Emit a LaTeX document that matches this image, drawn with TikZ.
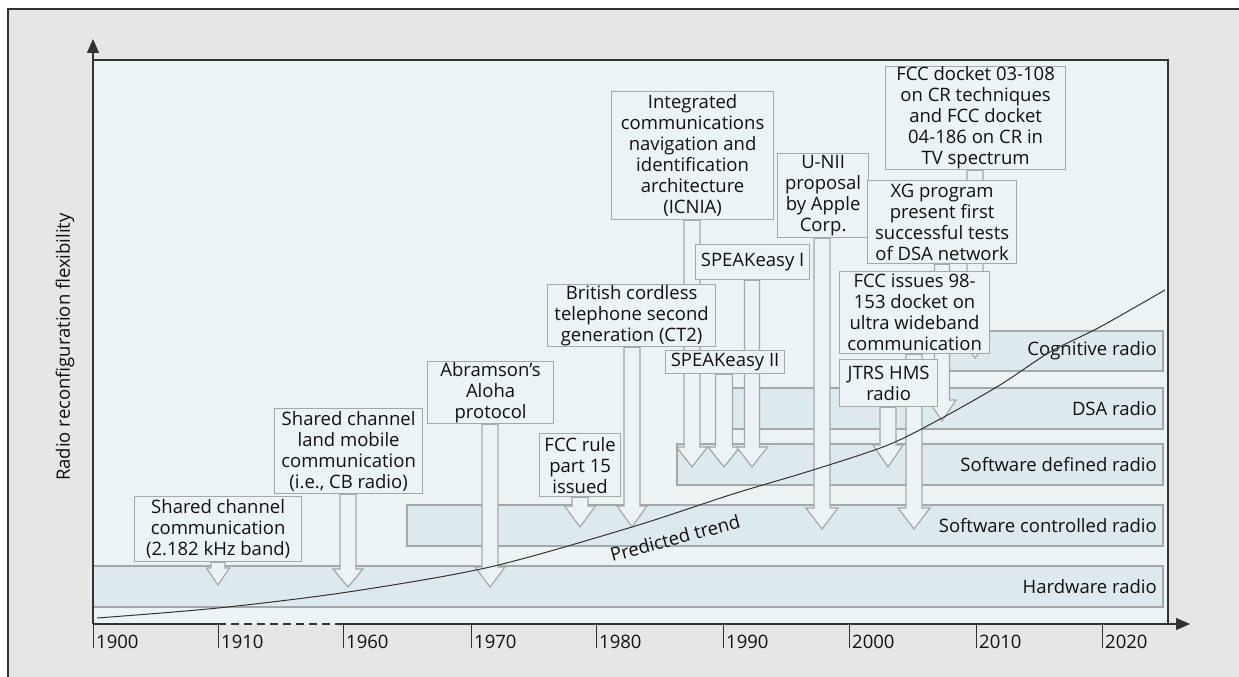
\documentclass[tikz,border=0pt]{standalone}
\usepackage{fontspec}
\setmainfont{Open Sans}
\usetikzlibrary{calc,arrows.meta}
\pgfdeclarelayer{bglayer}
\pgfdeclarelayer{arrlayer}
\pgfsetlayers{bglayer,arrlayer,main}
\definecolor{outerbg}{HTML}{E6E6E6}
\definecolor{plotbg}{HTML}{EBF3F5}
\definecolor{bandbg}{HTML}{DCE9ED}
\definecolor{edgecol}{HTML}{A3A9AB}
\definecolor{axiscol}{HTML}{333333}
\definecolor{txtcol}{HTML}{111111}
\newcommand\boxfont{\fontsize{18.5}{21}\selectfont}
\tikzset{
  ebox/.style={draw=edgecol, fill=plotbg, line width=1.2pt, inner sep=0pt,
    anchor=north west, align=center, font=\boxfont, text=txtcol},
  band/.style={draw=edgecol, fill=bandbg, line width=1.2pt},
  bandlbl/.style={anchor=east, font=\boxfont, text=txtcol, inner sep=0pt},
  blk/.style={draw=edgecol, fill=plotbg, line width=1.2pt, line join=miter},
  axline/.style={draw=axiscol, line width=1.3pt},
  ticklbl/.style={anchor=west, font=\boxfont, text=txtcol, inner sep=0pt},
}
% #1 start, #2 tip, #3 shaft half width, #4 head half width, #5 head length
\newcommand\blockarrow[5]{%
  \filldraw[blk] let \p1=#1, \p2=#2 in
    (\x2-#3pt,\y1) -- (\x2-#3pt,\y2+#5pt) -- (\x2-#4pt,\y2+#5pt) -- (\x2,\y2)
    -- (\x2+#4pt,\y2+#5pt) -- (\x2+#3pt,\y2+#5pt) -- (\x2+#3pt,\y1) -- cycle;}
\begin{document}
\begin{tikzpicture}[x=1pt,y=-1pt]
\useasboundingbox (0,0) rectangle (1239,677);
\begin{pgfonlayer}{bglayer}
\fill[white] (0,0) rectangle (1239,677);
\fill[outerbg] (8,9) rectangle (1239,677);
\draw[axiscol, line width=1.2pt] (8,677) -- (8,9) -- (1239,9);
\fill[plotbg] (93,60) rectangle (1168,624);
% bands
\draw[band] (93,566) rectangle (1163,607);
\draw[band] (407,505) rectangle (1163,546);
\draw[band] (677,444) rectangle (1163,485);
\draw[band] (725,388) rectangle (1163,429);
\draw[band] (948,331) rectangle (1163,371);
\end{pgfonlayer}

% boxes
\node[ebox, minimum width=167pt, minimum height=65pt] (sc1) at (134,496) {Shared channel\\communication\\(2.182 kHz band)};
\node[ebox, minimum width=148pt, minimum height=85pt] (sc2) at (274,408) {Shared channel\\land mobile\\communication\\(i.e., CB radio)};
\node[ebox, minimum width=126pt, minimum height=62pt] (aloha) at (427,361) {Abramson’s\\Aloha\\protocol};
\node[ebox, minimum width=81pt, minimum height=63pt] (fcc15) at (539,433) {FCC rule\\part 15\\issued};
\node[ebox, minimum width=162pt, minimum height=128pt] (icnia) at (611,91) {Integrated\\communications\\navigation and\\identification\\architecture\\(ICNIA)};
\node[ebox, minimum width=114pt, minimum height=35pt] (spk1) at (695,244) {SPEAKeasy I};
\node[ebox, minimum width=168pt, minimum height=62pt] (ct2) at (547,284) {British cordless\\telephone second\\generation (CT2)};
\node[ebox, minimum width=119pt, minimum height=23pt] (spk2) at (665,350) {SPEAKeasy II};
\node[ebox, minimum width=91pt, minimum height=84pt] (unii) at (777,153) {U-NII\\proposal\\by Apple\\Corp.};
\node[ebox, minimum width=180pt, minimum height=103pt] (dock) at (885,66) {FCC docket 03-108\\on CR techniques\\and FCC docket\\04-186 on CR in\\TV spectrum};
\node[ebox, minimum width=149pt, minimum height=83pt] (xg) at (867,180) {XG program\\present first\\successful tests\\of DSA network};
\node[ebox, minimum width=150pt, minimum height=82pt] (uwb) at (839,271) {FCC issues 98-\\153 docket on\\ultra wideband\\communication};
\node[ebox, minimum width=98pt, minimum height=47pt] (jtrs) at (839,359) {JTRS HMS\\radio};

% arrow tips
\coordinate (t-sc1) at (218,585);
\coordinate (t-sc2) at (348,587);
\coordinate (t-aloha) at (490,587);
\coordinate (t-fcc15) at (580,527);
\coordinate (t-ct2) at (632,527);
\coordinate (t-icnia) at (692,467);
\coordinate (t-spk2) at (724,467);
\coordinate (t-spk1) at (752,467);
\coordinate (t-unii) at (822,529);
\coordinate (t-uwb) at (914,529);
\coordinate (t-jtrs) at (888,467);
\coordinate (t-xg) at (942,421);
\coordinate (t-dock) at (975,358);

\begin{pgfonlayer}{arrlayer}
\blockarrow{(sc1.south -| t-sc1)}{(t-sc1)}{7}{11.5}{17}
\blockarrow{(sc2.south -| t-sc2)}{(t-sc2)}{8}{15}{18}
\blockarrow{(aloha.south -| t-aloha)}{(t-aloha)}{8}{15}{20}
\blockarrow{(fcc15.south -| t-fcc15)}{(t-fcc15)}{8}{15.5}{21}
\blockarrow{(ct2.south -| t-ct2)}{(t-ct2)}{8}{15}{21}
\blockarrow{(icnia.south -| t-icnia)}{(t-icnia)}{8}{15.5}{20}
\blockarrow{(spk2.south -| t-spk2)}{(t-spk2)}{8.5}{16}{20}
\blockarrow{(spk1.south -| t-spk1)}{(t-spk1)}{7.5}{15.5}{20}
\blockarrow{(unii.south -| t-unii)}{(t-unii)}{8}{16}{21}
\blockarrow{(uwb.south -| t-uwb)}{(t-uwb)}{8}{16}{21}
\blockarrow{(jtrs.south -| t-jtrs)}{(t-jtrs)}{8}{15}{22}
\blockarrow{(xg.south -| t-xg)}{(t-xg)}{7.5}{14}{21}
\blockarrow{(dock.south -| t-dock)}{(t-dock)}{8}{15}{20}
\end{pgfonlayer}

% band labels
\node[bandlbl] (lhw) at (1157,587) {Hardware radio};
\node[bandlbl] (lswc) at (1157,526) {Software controlled radio};
\node[bandlbl] (lsdr) at (1157,465) {Software defined radio};
\node[bandlbl] (ldsa) at (1157,409) {DSA radio};
\node[bandlbl] (lcog) at (1157,351) {Cognitive radio};

% plot border and axes
\draw[axiscol, line width=1.5pt] (93,60) -- (1168,60) -- (1168,624);
\coordinate (origin) at (93,624);
\coordinate (ytop) at (93,39);
\coordinate (xend) at (1190,624);
\coordinate (brk1) at (218,624);
\coordinate (brk2) at (343,624);
\draw[axline, -{Triangle[length=14pt,width=12pt]}] (origin) -- (ytop);
\draw[axline] (origin) -- (brk1);
\draw[axline, dash pattern=on 8pt off 5pt] (brk1) -- (brk2);
\draw[axline, -{Triangle[length=14pt,width=12pt]}] (brk2) -- (xend);
\foreach \xx/\yr in {93/1900,218/1910,343/1960,471/1970,596/1980,723/1990,849/2000,976/2010,1102/2020}{
  \draw[axline, line width=1pt] (\xx,624) -- (\xx,648);
  \node[ticklbl] (tk\yr) at (\xx+3,642) {\yr};
}
\node[rotate=90, font=\boxfont, text=txtcol] (ylbl) at (65,347) {Radio reconfiguration flexibility};

% trend curve
\draw[axiscol, line width=1pt] plot[smooth, tension=0.5] coordinates {(97,618) (218,608) (348,592) (490,567) (632,527) (733,494) (813,470) (888,445) (942,418) (1000,385) (1050,352) (1100,327) (1165,290)};
\node[rotate=15, font=\boxfont, text=txtcol] (trend) at (675,538) {Predicted trend};
\end{tikzpicture}
\end{document}
